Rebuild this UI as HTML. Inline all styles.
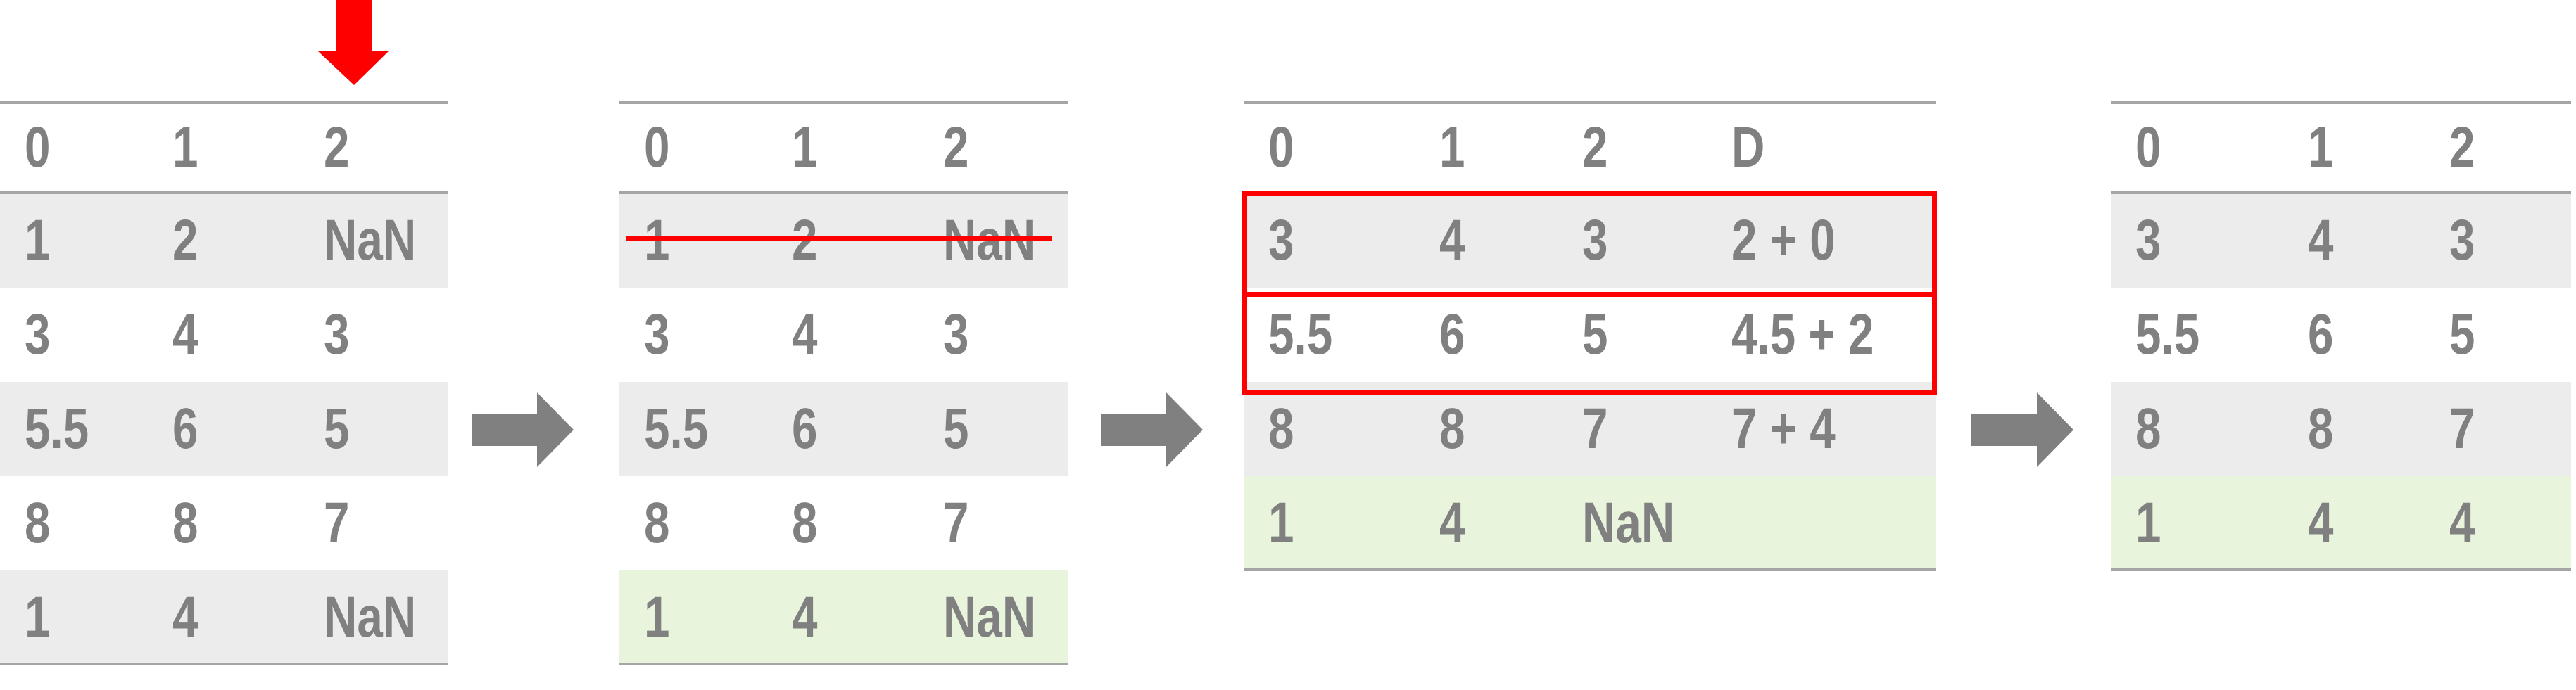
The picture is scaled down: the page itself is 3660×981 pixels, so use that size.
<!DOCTYPE html>
<html><head><meta charset="utf-8"><style>
html,body{margin:0;padding:0;background:#fff;}
#root{position:relative;width:3660px;height:981px;overflow:hidden;font-family:"Liberation Sans",sans-serif;font-weight:bold;color:#808080;}
.tbl{position:absolute;top:145px;}
.row{position:absolute;left:0;right:0;}
.cell{position:absolute;top:0;bottom:0;display:flex;align-items:center;font-size:82px;line-height:1;transform:scaleX(0.8);transform-origin:left center;white-space:nowrap;}
.line{position:absolute;left:0;right:0;height:4px;background:#a6a6a6;}
.g{background:#ececec;} .gr{background:#e8f4dc;}
</style></head><body>
<div id="root">
<svg style="position:absolute;left:0;top:0" width="3660" height="981">
  <polygon points="478,0 528,0 528,73 552,73 503,121 452,73 478,73" fill="#ff0000"/>
  <polygon points="670,588 763,588 763,558 815,611 763,664 763,634 670,634" fill="#808080"/>
  <polygon points="1564,588 1657,588 1657,558 1709,611 1657,664 1657,634 1564,634" fill="#808080"/>
  <polygon points="2801,588 2894,588 2894,558 2946,611 2894,664 2894,634 2801,634" fill="#808080"/>
</svg>
<div id="tables"></div>
</div>
<script>
const tables=[
 {name:'table-original',x:0,w:637,cols:[35,245,460],header:['0','1','2'],
  rows:[['1','2','NaN'],['3','4','3'],['5.5','6','5'],['8','8','7'],['1','4','NaN']],bg:['g','','g','','g']},
 {name:'table-dropped',x:880,w:637,cols:[35,245,460],header:['0','1','2'],
  rows:[['1','2','NaN'],['3','4','3'],['5.5','6','5'],['8','8','7'],['1','4','NaN']],bg:['g','','g','','gr']},
 {name:'table-diff',x:1767,w:983,cols:[35,278,481,693],header:['0','1','2','D'],
  rows:[['3','4','3','2 + 0'],['5.5','6','5','4.5 + 2'],['8','8','7','7 + 4'],['1','4','NaN','']],bg:['g','','g','gr']},
 {name:'table-result',x:2999,w:654,cols:[35,280,481],header:['0','1','2'],
  rows:[['3','4','3'],['5.5','6','5'],['8','8','7'],['1','4','4']],bg:['g','','g','gr']}
];
const HH=130,RH=134;
const host=document.getElementById('tables');
tables.forEach(t=>{
  const tb=document.createElement('div');tb.className='tbl';
  
  
  tb.style.left=t.x+'px';tb.style.width=t.w+'px';
  const total=HH+RH*t.rows.length;tb.style.height=total+'px';
  const mk=(vals,top,h,cls,nm)=>{
    const r=document.createElement('div');r.className='row '+cls;r.style.top=top+'px';r.style.height=h+'px';
    
    
    vals.forEach((v,i)=>{const c=document.createElement('div');c.className='cell';c.style.left=t.cols[i]+'px';c.textContent=v;
      
      
      r.appendChild(c);});
    tb.appendChild(r);
  };
  mk(t.header,0,HH,'','header-row');
  t.rows.forEach((rw,i)=>mk(rw,HH+RH*i,RH,t.bg[i],'data-row'));
  [0,HH-2,total-2].forEach(y=>{const l=document.createElement('div');l.className='line';l.style.top=(y-1)+'px';
    
    
    tb.appendChild(l);});
  host.appendChild(tb);
});
const s=document.createElement('div');


s.style.cssText='position:absolute;left:889px;top:336px;width:605px;height:7px;background:#ff0000;';
host.appendChild(s);
[[271,415],[415,555]].forEach(([a,b])=>{const d=document.createElement('div');
  
  
  d.style.cssText='position:absolute;left:1765px;width:973px;top:'+a+'px;height:'+(b-a-7)+'px;border:7px solid #ff0000;';
  host.appendChild(d);});
</script>
</body></html>
